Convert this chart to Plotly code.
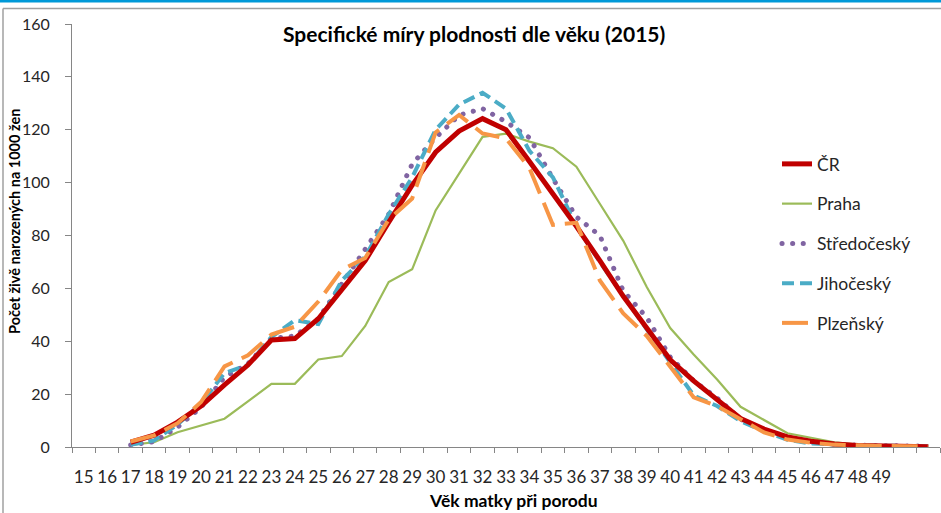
import plotly.graph_objects as go

# Category positions drawn on the axis (labels 15..49) and series positions
tick_positions = list(range(15, 50))
tick_labels = [str(a) for a in range(15, 50)]
series_x = list(range(17, 52))

cr = [1.8, 4.5, 9.4, 15.5, 23.5, 31, 40.5, 41, 48.5, 59.5, 70.5, 85, 99, 111.5, 119.5, 124.2,
      120, 108, 96, 83.5, 70.5, 57, 45, 33, 25, 18, 10.8, 6.8, 3.8, 2.2, 1.1, 0.6, 0.35, 0.2, 0.1]
praha = [0.8, 1.8, 5.6, 8.2, 10.7, 17.3, 23.9, 23.9, 33.1, 34.4, 45.8, 62.4, 67.2, 89.5, 103.5, 117.3,
         118.5, 115.5, 113, 106, 92, 78, 60.5, 45, 35, 25.5, 15.2, 10.3, 5.2, 3.5, 1.8, 0.9, 0.5, 0.3, 0.2]
stredocesky = [0.8, 2, 7.5, 15, 26.4, 31.5, 41, 42, 48.5, 61.5, 75, 88, 107, 117, 125.5, 128,
               123, 117, 101.5, 87, 80, 59, 49, 34, 25, 18.5, 10.5, 6, 3.7, 1.9, 1, 0.6, 0.5, 0.4, 0.3]
jihocesky = [0.8, 2.5, 8.5, 16.4, 28, 31, 41.6, 48, 46.5, 63, 72, 88, 102, 120, 129.5, 134,
             128, 112, 102, 83.5, 70, 57, 44.5, 32, 19.5, 15.5, 9.8, 5.9, 2.7, 1.3, 0.8, 0.6, 0.5, 0.4, 0.3]
plzensky = [2.1, 4.4, 9, 17, 30.5, 34.7, 42.5, 45.5, 55, 67, 71.5, 86, 94, 119, 125.6, 118.6,
            116.7, 105.5, 84, 84.8, 63, 50.5, 42, 30.5, 18.8, 15.5, 10.4, 5.5, 2.8, 1.6, 0.9, 0.5, 0.4, 0.3, 0.2]

FONT = "Lato"
TXT = "#262626"
AX = "#868686"

fig = go.Figure()

def add(name, y, color, width, dash, rank):
    fig.add_trace(go.Scatter(
        x=series_x, y=y, name=name, mode="lines",
        line=dict(color=color, width=width, dash=dash),
        legendrank=rank, legendgroup=name, hoverinfo="skip"))

add("Praha", praha, "#9BBB59", 2.2, "solid", 2)
add("Středočeský", stredocesky, "#8064A2", 5, "4px,7px", 3)
add("Jihočeský", jihocesky, "#4BACC6", 4, "12px,6px", 4)
add("ČR", cr, "#C00000", 5, "solid", 1)
add("Plzeňský", plzensky, "#F79646", 4, "26px,10px", 5)

L, R, T, B = 72, 1, 24, 66
W, H = 941, 513
pw, ph = W - L - R, H - T - B

def px(x):
    return (x - L) / pw

def py(y):
    return (H - B - y) / ph

fig.update_layout(
    width=W, height=H,
    margin=dict(l=L, r=R, t=T, b=B),
    paper_bgcolor="white", plot_bgcolor="white",
    font=dict(family=FONT, color=TXT, size=16),
    showlegend=True,
    legend=dict(x=px(777), y=py(146), xanchor="left", yanchor="top",
                font=dict(family=FONT, size=17.5, color=TXT),
                tracegroupgap=14, bgcolor="rgba(0,0,0,0)", itemwidth=30),
    xaxis=dict(range=[14.5, 51.5], showgrid=False, zeroline=False,
               showline=True, linecolor=AX, linewidth=1,
               tickmode="array", tickvals=tick_positions, ticktext=tick_labels,
               ticks="", ticklabelstandoff=15, tickangle=0,
               tickfont=dict(family=FONT, size=17, color=TXT),
               minor=dict(ticks="outside", ticklen=5, tickcolor=AX, tick0=14.5, dtick=1, showgrid=False)),
    yaxis=dict(range=[0, 160], dtick=20, showgrid=False, zeroline=False,
               showline=True, linecolor=AX, linewidth=1,
               ticks="outside", ticklen=6, tickcolor=AX, ticklabelstandoff=12,
               tickfont=dict(family=FONT, size=16, color=TXT)),
    annotations=[
        dict(text="<b>Počet živě narozených na 1000 žen</b>", xref="paper", yref="paper",
             x=px(14), y=py(222), xanchor="center", yanchor="middle", showarrow=False,
             textangle=-90, font=dict(family=FONT, size=14.5, color="#000000")),
        dict(text="<b>Specifické míry plodnosti dle věku (2015)</b>", xref="paper", yref="paper",
             x=px(474), y=py(33), xanchor="center", yanchor="middle", showarrow=False,
             font=dict(family=FONT, size=21, color="#000000")),
        dict(text="<b>Věk matky při porodu</b>", xref="paper", yref="paper",
             x=px(513), y=py(500), xanchor="center", yanchor="middle", showarrow=False,
             font=dict(family=FONT, size=17.5, color="#000000")),
    ],
    shapes=[
        dict(type="rect", xref="paper", yref="paper", x0=px(-5), x1=px(950), y0=py(2.5), y1=py(-5),
             fillcolor="#0099D8", line=dict(width=0), layer="above"),
        dict(type="line", xref="paper", yref="paper", x0=px(3), x1=px(950), y0=py(8.5), y1=py(8.5),
             line=dict(color="#A0A0A0", width=1.5)),
        dict(type="line", xref="paper", yref="paper", x0=px(3), x1=px(3), y0=py(8.5), y1=py(520),
             line=dict(color="#A0A0A0", width=1.5)),
    ],
)

post = """
document.body.style.margin = '0px';
document.body.style.overflow = 'hidden';
var paths = document.querySelectorAll('path.js-line');
paths.forEach(function(p){
  var s = p.style.stroke || '';
  if (s.replace(/\\s/g,'') === 'rgb(128,100,162)') {
    p.style.strokeLinecap = 'round';
    p.style.strokeDasharray = '0.1px,10.5px';
  }
});
"""

fig.write_html("out.html", post_script=post, config={"displayModeBar": False})
